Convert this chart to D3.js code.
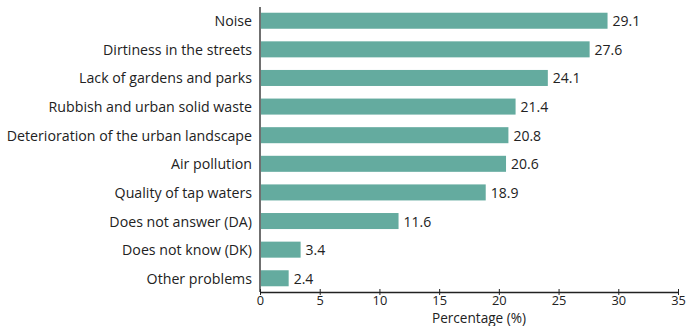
<!DOCTYPE html>
<html>
<head>
<meta charset="utf-8">
<script src="https://cdn.jsdelivr.net/npm/d3@7"></script>
<style>
  body { margin: 0; background: #fff; }
  text { font-family: "Open Sans", sans-serif; fill: #222; }
</style>
</head>
<body>
<div id="chart"></div>
<script>
var categories = ["Noise", "Dirtiness in the streets", "Lack of gardens and parks",
  "Rubbish and urban solid waste", "Deterioration of the urban landscape", "Air pollution",
  "Quality of tap waters", "Does not answer (DA)", "Does not know (DK)", "Other problems"];
var values = [29.1, 27.6, 24.1, 21.4, 20.8, 20.6, 18.9, 11.6, 3.4, 2.4];
var xTicks = [0, 5, 10, 15, 20, 25, 30, 35];
var xTitle = "Percentage (%)";

var width = 690, height = 326;
var margin = {top: 7, left: 260, bottom: 34, right: 12};

var svg = d3.select("#chart").append("svg")
  .attr("width", width)
  .attr("height", height);

var xScale = d3.scaleLinear()
  .domain([0, 35])
  .range([margin.left, width - margin.right]);

var yScale = d3.scaleBand()
  .domain(categories)
  .range([margin.top, height - margin.bottom])
  .paddingInner(0.44)
  .paddingOuter(0.2);

// bars
svg.selectAll("rect.bar")
  .data(values)
  .enter().append("rect")
  .attr("class", "bar")
  .attr("x", xScale(0) + 1)
  .attr("y", (d, i) => yScale(categories[i]))
  .attr("width", (d) => xScale(d) - xScale(0) - 1)
  .attr("height", yScale.bandwidth())
  .style("fill", "#64ab9f");

// value labels
svg.selectAll("text.val")
  .data(values)
  .enter().append("text")
  .attr("class", "val")
  .attr("x", (d) => xScale(d) + 5)
  .attr("y", (d, i) => yScale(categories[i]) + yScale.bandwidth() / 2)
  .attr("dominant-baseline", "central")
  .style("font-size", "14px")
  .text((d) => d.toFixed(1));

// category labels
svg.selectAll("text.cat")
  .data(categories)
  .enter().append("text")
  .attr("class", "cat")
  .attr("x", margin.left - 8)
  .attr("y", (d) => yScale(d) + yScale.bandwidth() / 2)
  .attr("text-anchor", "end")
  .attr("dominant-baseline", "central")
  .style("font-size", "14.2px")
  .text((d) => d);

// x axis
var axisY = height - margin.bottom;
var xAxis = svg.append("g")
  .attr("transform", "translate(0," + axisY + ")")
  .call(d3.axisBottom(xScale).tickValues(xTicks).tickSize(3).tickSizeOuter(0));
xAxis.select(".domain").attr("stroke", "#222").attr("stroke-width", 1.3);
xAxis.selectAll(".tick line").attr("stroke", "#222").attr("y1", -3);
xAxis.selectAll(".tick text")
  .attr("y", 4)
  .style("font-size", "12.8px")
  .style("font-family", "'Open Sans', sans-serif")
  .attr("fill", "#222");

// y axis line
svg.append("line")
  .attr("x1", xScale(0)).attr("x2", xScale(0))
  .attr("y1", margin.top).attr("y2", axisY)
  .attr("stroke", "#222")
  .attr("stroke-width", 1.3);

svg.append("text")
  .attr("x", (xScale(0) + xScale(35)) / 2 + 10)
  .attr("y", 323)
  .attr("text-anchor", "middle")
  .style("font-size", "13.6px")
  .text(xTitle);
</script>
</body>
</html>
